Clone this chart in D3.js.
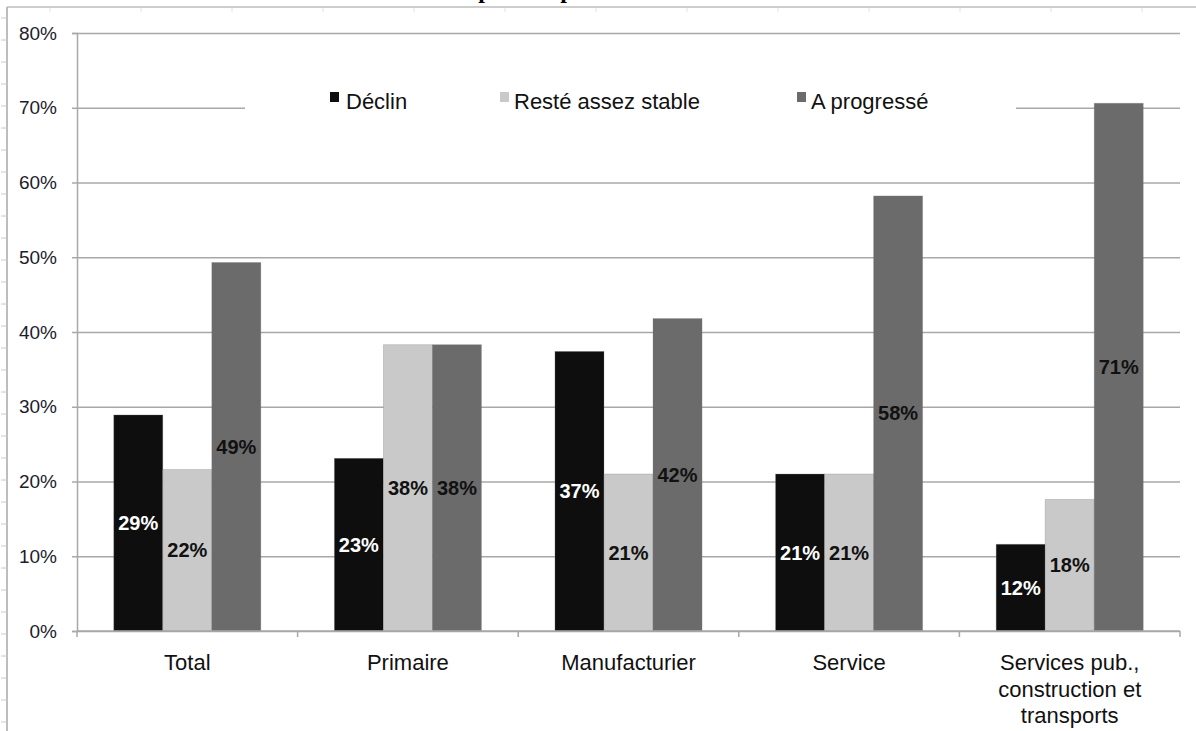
<!DOCTYPE html>
<html lang="fr">
<head>
  <meta charset="UTF-8">
  <script src="https://cdn.jsdelivr.net/npm/d3@7"></script>
  <title>Évolution</title>
  <style>
    html, body { margin: 0; padding: 0; background: #fff; }
    svg { display: block; }
  </style>
</head>
<body>
  <svg class="svg" width="1196" height="731"></svg>
  <script>
    // donnees
    const categories = ["Total", "Primaire", "Manufacturier", "Service", "Services pub."]
    const categoryLines = [["Total"], ["Primaire"], ["Manufacturier"], ["Service"],
      ["Services pub.,", "construction et", "transports"]]
    const series = ["Déclin", "Resté assez stable", "A progressé"]
    const declin = [0.289, 0.231, 0.374, 0.210, 0.116]
    const stable = [0.216, 0.383, 0.210, 0.210, 0.176]
    const progresse = [0.493, 0.383, 0.418, 0.582, 0.706]
    const yTicks = [0, 0.1, 0.2, 0.3, 0.4, 0.5, 0.6, 0.7, 0.8]

    const colors = ["#0e0e0e", "#c9c9c9", "#6b6b6b"]
    const labelColors = ["#fff", "#111", "#111"]

    let svg = d3.select(".svg")
    let margin = ({top: 33, right: 16, bottom: 101, left: 77})
    let width = +svg.attr("width")
    let height = +svg.attr("height")
    const font = "'Liberation Sans', Arial, sans-serif"

    const values = categories.map((c, i) => [declin[i], stable[i], progresse[i]])

    let x0 = d3.scaleBand()
      .domain(categories)
      .range([margin.left, width - margin.right])

    let x1 = d3.scaleBand()
      .domain(series)
      .range([0, x0.bandwidth()])
      .paddingOuter(0.75)

    let y = d3.scaleLinear()
      .domain([0, 0.8])
      .range([height - margin.bottom + 1, margin.top])

    // titre coupe en haut de la page (seuls les jambages restent visibles)
    svg.append("g")
      .selectAll("text")
      .data(["p", "p"])
      .join("text")
      .attr("x", (d, i) => [485, 567][i])
      .attr("y", -2)
      .attr("text-anchor", "middle")
      .attr("font-family", "'Liberation Serif', serif")
      .attr("font-weight", "bold")
      .attr("font-size", 24)
      .attr("fill", "#000")
      .text(d => d)

    // cadre de la page
    svg.append("line")
      .attr("x1", 7).attr("x2", width).attr("y1", 7).attr("y2", 7)
      .attr("stroke", "#cdcdcd").attr("stroke-width", 2)
    svg.append("line")
      .attr("x1", 7).attr("x2", 7).attr("y1", 7).attr("y2", height)
      .attr("stroke", "#bdbdbd").attr("stroke-width", 2)
    svg.append("g")
      .attr("stroke", "#c8c8c8")
      .selectAll("line")
      .data(d3.range(18, height, 22))
      .join("line")
      .attr("x1", 1).attr("x2", 7)
      .attr("y1", d => d).attr("y2", d => d)
    svg.append("g")
      .attr("stroke", "#e2e2e2")
      .selectAll("line")
      .data(d3.range(50, width, 91))
      .join("line")
      .attr("x1", d => d).attr("x2", d => d)
      .attr("y1", 8).attr("y2", 12)

    // grille + axe Y
    svg.append("g")
      .attr("transform", `translate(${margin.left},0)`)
      .call(d3.axisLeft(y)
        .tickValues(yTicks)
        .tickFormat(d3.format(".0%"))
        .tickSize(5)
        .tickPadding(15))
      .call(g => g.select(".domain").attr("stroke", "#a8a8a8").attr("stroke-width", 1.5))
      .call(g => g.selectAll(".tick line").attr("stroke", "#a8a8a8").attr("stroke-width", 1.5))
      .call(g => g.selectAll(".tick line").clone()
        .attr("x1", 0)
        .attr("x2", width - margin.right - margin.left))
      .call(g => g.selectAll(".tick text")
        .attr("font-family", font)
        .attr("font-size", 19)
        .attr("fill", "#1c1c2c"))

    // boite de legende (masque la ligne 70%)
    svg.append("rect")
      .attr("x", 245).attr("y", 82)
      .attr("width", 771).attr("height", 40)
      .attr("fill", "#fff")

    const legendX = [330, 500, 797]
    const legend = svg.append("g")
      .selectAll("g")
      .data(series)
      .join("g")
      .attr("transform", (d, i) => `translate(${legendX[i]},0)`)
    legend.append("rect")
      .attr("x", 0).attr("y", 92)
      .attr("width", 9).attr("height", 10)
      .attr("fill", (d, i) => colors[i])
    legend.append("text")
      .attr("x", d => d === "Déclin" ? 16 : 14)
      .attr("y", 109)
      .attr("font-family", font)
      .attr("font-size", 22)
      .attr("fill", "#111")
      .text(d => d)

    // barres
    const groups = svg.append("g")
      .selectAll("g")
      .data(values)
      .join("g")
      .attr("transform", (d, i) => `translate(${x0(categories[i])},0)`)

    groups.selectAll("rect")
      .data(d => d.map((v, j) => ({key: series[j], value: v, j})))
      .join("rect")
      .attr("x", d => x1(d.key))
      .attr("y", d => y(d.value))
      .attr("width", x1.bandwidth())
      .attr("height", d => y(0) - y(d.value))
      .attr("fill", d => colors[d.j])
      .attr("stroke", "rgba(120,120,120,0.35)")
      .attr("stroke-width", 0.8)

    groups.selectAll("text")
      .data(d => d.map((v, j) => ({key: series[j], value: v, j})))
      .join("text")
      .attr("x", d => x1(d.key) + x1.bandwidth() / 2)
      .attr("y", d => (y(d.value) + y(0)) / 2)
      .attr("dy", "0.35em")
      .attr("text-anchor", "middle")
      .attr("font-family", font)
      .attr("font-weight", "bold")
      .attr("font-size", 20)
      .attr("fill", d => labelColors[d.j])
      .text(d => Math.round(d.value * 100) + "%")

    // axe X
    const xAxis = svg.append("g")
    xAxis.append("line")
      .attr("x1", margin.left).attr("x2", width - margin.right)
      .attr("y1", y(0)).attr("y2", y(0))
      .attr("stroke", "#a8a8a8").attr("stroke-width", 1.5)
    xAxis.selectAll(".xtick")
      .data(categories.map(c => x0(c)).concat([x0.range()[1]]))
      .join("line")
      .attr("class", "xtick")
      .attr("x1", d => d).attr("x2", d => d)
      .attr("y1", y(0)).attr("y2", y(0) + 6)
      .attr("stroke", "#a8a8a8").attr("stroke-width", 1.5)

    xAxis.selectAll(".xlabel")
      .data(categoryLines)
      .join("text")
      .attr("class", "xlabel")
      .attr("text-anchor", "middle")
      .attr("font-family", font)
      .attr("font-size", 22)
      .attr("fill", "#111")
      .attr("transform", (d, i) => `translate(${x0(categories[i]) + x0.bandwidth() / 2},${y(0) + 39})`)
      .selectAll("tspan")
      .data(d => d)
      .join("tspan")
      .attr("x", 0)
      .attr("y", (d, i) => i * 26.5)
      .text(d => d)
  </script>
</body>
</html>
